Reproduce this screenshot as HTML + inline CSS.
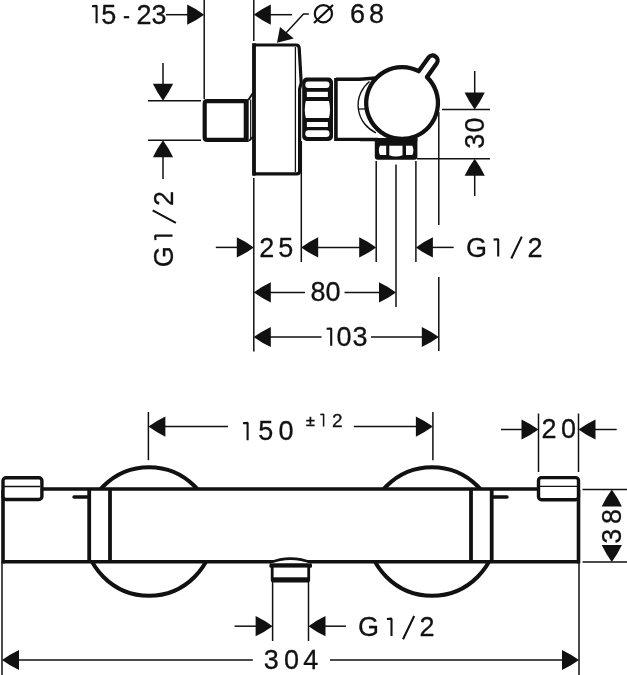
<!DOCTYPE html>
<html><head><meta charset="utf-8"><style>
html,body{margin:0;padding:0;background:#fff;}
svg{display:block;will-change:transform;}
text{font-family:"Liberation Sans",sans-serif;fill:#111;stroke:#111;stroke-width:0.3px;}
</style></head><body>
<svg width="627" height="675" viewBox="0 0 627 675" stroke="#111" fill="none" stroke-linecap="butt">
<rect x="0" y="0" width="627" height="675" fill="#fff" stroke="none"/>
<text transform="translate(108.8 14.4) rotate(0)" x="-7.48" y="9.29" font-size="27">5</text>
<path transform="translate(96.6 14) rotate(0)" d="M-4.6 -7.8 L0 -8.15 V9.2" stroke-width="2.1" fill="none" stroke-linejoin="bevel"/>
<line x1="123.8" y1="17.2" x2="129.2" y2="17.2" stroke-width="2.2"/>
<text transform="translate(143.9 14.4) rotate(0)" x="-7.51" y="9.29" font-size="27">2</text>
<text transform="translate(158.9 14.4) rotate(0)" x="-7.43" y="9.29" font-size="27">3</text>
<line x1="166" y1="14.7" x2="190" y2="14.7" stroke-width="1.5"/>
<path d="M204.2 14.7 Q196.16 8.88 187.2 4.6 L187.2 24.8 Q196.16 20.52 204.2 14.7 Z" stroke="none" fill="#111"/>
<line x1="204.2" y1="0" x2="204.2" y2="99" stroke-width="1.5"/>
<line x1="253.8" y1="0" x2="253.8" y2="41" stroke-width="1.5"/>
<path d="M253.8 14.7 Q261.84 20.52 270.8 24.8 L270.8 4.6 Q261.84 8.88 253.8 14.7 Z" stroke="none" fill="#111"/>
<line x1="268" y1="14.7" x2="292" y2="14.7" stroke-width="1.5"/>
<path d="M308.8 14 L303.5 14 L285 34" stroke-width="1.5" fill="none" />
<path d="M277 42.8 L280 27.1 L293.8 38.5 Z" stroke="none" fill="#111"/>
<circle cx="323.4" cy="13.7" r="8.6" stroke-width="2.2" fill="none"/>
<line x1="314" y1="23" x2="333" y2="5" stroke-width="2.2"/>
<text transform="translate(357.5 14) rotate(0)" x="-7.6" y="9.29" font-size="27">6</text>
<text transform="translate(376.6 14) rotate(0)" x="-7.51" y="9.29" font-size="27">8</text>
<path d="M254 173.9 V45 H296 Q299 45 299.2 48 L301.2 83 L299.6 89 V171 Q299.6 173.9 296.6 173.9 Z" stroke-width="3.2" fill="none" />
<line x1="254" y1="43.3" x2="254" y2="175.6" stroke-width="3.6"/>
<line x1="295.4" y1="47" x2="295.4" y2="172" stroke-width="1.3"/>
<path d="M246.2 101.2 H207 Q204.7 101.2 204.7 103.5 V137.6 Q204.7 139.9 207 139.9 H246.2" stroke-width="4.2" fill="none" />
<line x1="246.2" y1="99.1" x2="246.2" y2="142" stroke-width="5"/>
<line x1="250.7" y1="99.5" x2="250.7" y2="139" stroke-width="1.2"/>
<line x1="248.3" y1="100" x2="254" y2="91.5" stroke-width="2"/>
<line x1="249" y1="140.8" x2="253.8" y2="136" stroke-width="1.8"/>
<rect x="302.2" y="77.6" width="30.8" height="63.3" rx="4.5" fill="#111" stroke="none"/>
<g fill="#fff" stroke="none">
<rect x="305.3" y="81.4" width="24.2" height="6.7" rx="3"/>
<rect x="306.9" y="91.8" width="21" height="5.2"/>
<path d="M305.8 100.9 H329 Q331 109.5 329 118.1 H305.8 Q303.8 109.5 305.8 100.9 Z"/>
<rect x="306.9" y="122" width="21" height="5"/>
<rect x="305.3" y="130.3" width="24.2" height="6.7" rx="3"/>
</g>
<path d="M336 79.2 L360 79.2 L376 78" stroke-width="3.6" fill="none" />
<line x1="336" y1="139.3" x2="378" y2="139.3" stroke-width="3.3"/>
<line x1="335.9" y1="78" x2="335.9" y2="141" stroke-width="3.6"/>
<path d="M426.94 77.12 A35.9 35.9 0 1 1 418.66 71.17 L428.39 57.64 A5.1 5.1 0 0 1 436.68 63.59 Z" stroke-width="4.3" fill="#fff" stroke-linejoin="round"/>
<path d="M369.5 81.5 A30.3 30.3 0 0 0 376 132.8" stroke-width="1.4" fill="none" />
<line x1="358" y1="109" x2="365" y2="109" stroke-width="1.3"/>
<path d="M374.8 138 H417.4 V156.8 Q417.4 159.8 414.4 159.8 H377.8 Q374.8 159.8 374.8 156.8 Z" stroke-width="0" fill="#111" stroke="none"/>
<line x1="360" y1="139.6" x2="417.4" y2="139.6" stroke-width="3.3"/>
<g fill="#fff" stroke="none">
<path d="M380 145.8 H386.2 V155 H380 Q377.6 150.4 380 145.8 Z"/>
<path d="M389.3 145.8 H402.5 V155.2 Q395.9 157.8 389.3 155.2 Z"/>
<path d="M406 145.8 H412.3 Q414.6 150.4 412.3 155 H406 Z"/>
</g>
<line x1="253.8" y1="178" x2="253.8" y2="351.6" stroke-width="1.5"/>
<line x1="301.3" y1="141" x2="301.3" y2="262" stroke-width="1.5"/>
<line x1="376.2" y1="161" x2="376.2" y2="262" stroke-width="1.5"/>
<line x1="396" y1="164.5" x2="396" y2="307" stroke-width="1.5"/>
<line x1="415.9" y1="161" x2="415.9" y2="262" stroke-width="1.5"/>
<line x1="438.8" y1="112" x2="438.8" y2="225" stroke-width="1.5"/>
<line x1="438.8" y1="277" x2="438.8" y2="351" stroke-width="1.5"/>
<line x1="474.7" y1="71" x2="474.7" y2="95" stroke-width="1.5"/>
<path d="M474.7 109.5 Q480.52 101.46 484.8 92.5 L464.6 92.5 Q468.88 101.46 474.7 109.5 Z" stroke="none" fill="#111"/>
<line x1="442" y1="109.5" x2="490" y2="109.5" stroke-width="1.5"/>
<line x1="417" y1="158.7" x2="490" y2="158.7" stroke-width="1.5"/>
<path d="M474.7 158.7 Q468.88 166.74 464.6 175.7 L484.8 175.7 Q480.52 166.74 474.7 158.7 Z" stroke="none" fill="#111"/>
<line x1="474.7" y1="170" x2="474.7" y2="196" stroke-width="1.5"/>
<text transform="translate(474.9 141.3) rotate(-90)" x="-7.43" y="9.29" font-size="27">3</text>
<text transform="translate(474.9 125) rotate(-90)" x="-7.51" y="9.29" font-size="27">0</text>
<line x1="148" y1="100.7" x2="201" y2="100.7" stroke-width="1.5"/>
<line x1="148" y1="140.3" x2="201" y2="140.3" stroke-width="1.5"/>
<line x1="163" y1="63" x2="163" y2="86" stroke-width="1.5"/>
<path d="M163 100.7 Q168.82 92.66 173.1 83.7 L152.9 83.7 Q157.18 92.66 163 100.7 Z" stroke="none" fill="#111"/>
<path d="M163 140.3 Q157.18 148.34 152.9 157.3 L173.1 157.3 Q168.82 148.34 163 140.3 Z" stroke="none" fill="#111"/>
<line x1="163" y1="150" x2="163" y2="179" stroke-width="1.5"/>
<text transform="translate(163.3 257.1) rotate(-90)" x="-10.17" y="9.29" font-size="27">G</text>
<path transform="translate(163.3 235.6) rotate(-90)" d="M-4.6 -7.8 L0 -8.15 V9.2" stroke-width="2.1" fill="none" stroke-linejoin="bevel"/>

<line x1="175.9" y1="222.9" x2="152.7" y2="210.3" stroke-width="2.1"/>
<text transform="translate(163.3 198.6) rotate(-90)" x="-7.51" y="9.29" font-size="27">2</text>
<line x1="215.8" y1="247.4" x2="240" y2="247.4" stroke-width="1.5"/>
<path d="M253.8 247.4 Q245.76 241.58 236.8 237.3 L236.8 257.5 Q245.76 253.22 253.8 247.4 Z" stroke="none" fill="#111"/>
<text transform="translate(266.8 247.7) rotate(0)" x="-7.51" y="9.29" font-size="27">2</text>
<text transform="translate(285.8 247.7) rotate(0)" x="-7.48" y="9.29" font-size="27">5</text>
<path d="M301.2 247.4 Q309.24 253.22 318.2 257.5 L318.2 237.3 Q309.24 241.58 301.2 247.4 Z" stroke="none" fill="#111"/>
<line x1="315" y1="247.4" x2="362" y2="247.4" stroke-width="1.5"/>
<path d="M376.2 247.4 Q368.16 241.58 359.2 237.3 L359.2 257.5 Q368.16 253.22 376.2 247.4 Z" stroke="none" fill="#111"/>
<path d="M415.9 247.4 Q423.94 253.22 432.9 257.5 L432.9 237.3 Q423.94 241.58 415.9 247.4 Z" stroke="none" fill="#111"/>
<line x1="430" y1="247.4" x2="453.7" y2="247.4" stroke-width="1.5"/>
<text transform="translate(476.2 247.4) rotate(0)" x="-10.17" y="9.29" font-size="27">G</text>
<path transform="translate(498.2 247.4) rotate(0)" d="M-4.6 -7.8 L0 -8.15 V9.2" stroke-width="2.1" fill="none" stroke-linejoin="bevel"/>
<line x1="511.3" y1="258.5" x2="521.8" y2="236.6" stroke-width="2.1"/>
<text transform="translate(534.9 247.4) rotate(0)" x="-7.51" y="9.29" font-size="27">2</text>
<path d="M253.8 292.4 Q261.84 298.22 270.8 302.5 L270.8 282.3 Q261.84 286.58 253.8 292.4 Z" stroke="none" fill="#111"/>
<line x1="268" y1="292.4" x2="305" y2="292.4" stroke-width="1.5"/>
<text transform="translate(318 291.9) rotate(0)" x="-7.51" y="9.29" font-size="27">8</text>
<text transform="translate(333 291.9) rotate(0)" x="-7.51" y="9.29" font-size="27">0</text>
<line x1="344.5" y1="292.4" x2="382" y2="292.4" stroke-width="1.5"/>
<path d="M396 292.4 Q387.96 286.58 379 282.3 L379 302.5 Q387.96 298.22 396 292.4 Z" stroke="none" fill="#111"/>
<path d="M253.8 337 Q261.84 342.82 270.8 347.1 L270.8 326.9 Q261.84 331.18 253.8 337 Z" stroke="none" fill="#111"/>
<line x1="268" y1="337" x2="321.5" y2="337" stroke-width="1.5"/>
<path transform="translate(331.2 336.6) rotate(0)" d="M-4.6 -7.8 L0 -8.15 V9.2" stroke-width="2.1" fill="none" stroke-linejoin="bevel"/>
<text transform="translate(344 336.7) rotate(0)" x="-7.51" y="9.29" font-size="27">0</text>
<text transform="translate(360 336.7) rotate(0)" x="-7.43" y="9.29" font-size="27">3</text>
<line x1="371" y1="337" x2="425" y2="337" stroke-width="1.5"/>
<path d="M438.8 337 Q430.76 331.18 421.8 326.9 L421.8 347.1 Q430.76 342.82 438.8 337 Z" stroke="none" fill="#111"/>
<line x1="148.4" y1="412" x2="148.4" y2="460.2" stroke-width="1.5"/>
<line x1="432.9" y1="412" x2="432.9" y2="460.2" stroke-width="1.5"/>
<path d="M148.4 426.6 Q156.44 432.42 165.4 436.7 L165.4 416.5 Q156.44 420.78 148.4 426.6 Z" stroke="none" fill="#111"/>
<line x1="162" y1="426.6" x2="228" y2="426.6" stroke-width="1.5"/>
<path transform="translate(247.6 431) rotate(0)" d="M-4.6 -7.8 L0 -8.15 V9.2" stroke-width="2.1" fill="none" stroke-linejoin="bevel"/>
<text transform="translate(265.8 431.2) rotate(0)" x="-7.48" y="9.29" font-size="27">5</text>
<text transform="translate(286.1 431.2) rotate(0)" x="-7.51" y="9.29" font-size="27">0</text>
<path d="M306.2 420.6 H314.6 M310.4 416.8 V424.2 M306.2 425.3 H314.6" stroke-width="1.8"/>
<path transform="translate(323.6 420) rotate(0)" d="M-3.3 -5.6 L0 -5.85 V6.6" stroke-width="1.51" fill="none" stroke-linejoin="bevel"/>
<text transform="translate(337.3 420.5) rotate(0)" x="-5.28" y="6.54" font-size="19">2</text>
<line x1="353.8" y1="426.6" x2="419" y2="426.6" stroke-width="1.5"/>
<path d="M432.9 426.6 Q424.86 420.78 415.9 416.5 L415.9 436.7 Q424.86 432.42 432.9 426.6 Z" stroke="none" fill="#111"/>
<line x1="538.5" y1="413.5" x2="538.5" y2="472" stroke-width="1.5"/>
<line x1="578.5" y1="413.5" x2="578.5" y2="472" stroke-width="1.5"/>
<line x1="501" y1="429.5" x2="525" y2="429.5" stroke-width="1.5"/>
<path d="M538.5 429.5 Q530.46 423.68 521.5 419.4 L521.5 439.6 Q530.46 435.32 538.5 429.5 Z" stroke="none" fill="#111"/>
<path d="M578.5 429.5 Q586.54 435.32 595.5 439.6 L595.5 419.4 Q586.54 423.68 578.5 429.5 Z" stroke="none" fill="#111"/>
<line x1="592" y1="429.5" x2="616.7" y2="429.5" stroke-width="1.5"/>
<text transform="translate(549 428.6) rotate(0)" x="-7.51" y="9.29" font-size="27">2</text>
<text transform="translate(568.6 428.6) rotate(0)" x="-7.51" y="9.29" font-size="27">0</text>
<circle cx="149" cy="531.5" r="64.3" stroke-width="4" fill="none"/>
<circle cx="432" cy="531.5" r="64.3" stroke-width="4" fill="none"/>
<rect x="3" y="489" width="575.5" height="72.8" fill="#fff" stroke="none"/>
<line x1="3" y1="490" x2="3" y2="563.4" stroke-width="3.6"/>
<line x1="578.5" y1="490" x2="578.5" y2="563.4" stroke-width="3.6"/>
<line x1="42" y1="489" x2="538.5" y2="489" stroke-width="3.4"/>
<line x1="3" y1="561.8" x2="578.5" y2="561.8" stroke-width="3.4"/>
<rect x="3" y="477.7" width="38.9" height="21.8" rx="3" stroke-width="3.4" fill="#fff"/>
<line x1="4" y1="486.5" x2="40" y2="486.5" stroke-width="1.3"/>
<rect x="538.5" y="477.6" width="40" height="22.2" rx="3" stroke-width="3.4" fill="#fff"/>
<line x1="540" y1="486.4" x2="577" y2="486.4" stroke-width="1.3"/>
<line x1="89.2" y1="489" x2="89.2" y2="561.8" stroke-width="3.8"/>
<line x1="110" y1="489" x2="110" y2="561.8" stroke-width="3.8"/>
<line x1="471" y1="489" x2="471" y2="561.8" stroke-width="3.8"/>
<line x1="491.7" y1="489" x2="491.7" y2="561.8" stroke-width="3.8"/>
<path d="M88 497 H74 M493 497 H507" stroke-width="3.4" stroke-linecap="round"/>
<path d="M270 563.9 L270.5 562.5 Q290.6 554.7 310.7 562.5 L311 563.9 Z" fill="#fff" stroke="none"/>
<path d="M269.5 562.8 Q290.6 554.4 311.7 562.8" stroke-width="2.6" fill="none" />
<rect x="269.4" y="563.6" width="42.6" height="4.2" rx="1.5" fill="#111" stroke="none"/>
<rect x="270.8" y="563.6" width="39.3" height="18.8" rx="2.5" fill="#111" stroke="none"/>
<rect x="273.6" y="567.6" width="33.7" height="9.7" fill="#fff" stroke="none"/>
<line x1="272.6" y1="582" x2="272.6" y2="641" stroke-width="1.5"/>
<line x1="308.5" y1="582" x2="308.5" y2="641" stroke-width="1.5"/>
<line x1="234.6" y1="626.2" x2="258" y2="626.2" stroke-width="1.5"/>
<path d="M272.6 626.2 Q264.56 620.38 255.6 616.1 L255.6 636.3 Q264.56 632.02 272.6 626.2 Z" stroke="none" fill="#111"/>
<path d="M308.5 626.2 Q316.54 632.02 325.5 636.3 L325.5 616.1 Q316.54 620.38 308.5 626.2 Z" stroke="none" fill="#111"/>
<line x1="322" y1="626.2" x2="345.9" y2="626.2" stroke-width="1.5"/>
<text transform="translate(368.2 626.8) rotate(0)" x="-10.17" y="9.29" font-size="27">G</text>
<path transform="translate(391.5 626.8) rotate(0)" d="M-4.6 -7.8 L0 -8.15 V9.2" stroke-width="2.1" fill="none" stroke-linejoin="bevel"/>
<line x1="403" y1="639.2" x2="414.2" y2="616" stroke-width="2.1"/>
<text transform="translate(427 626.8) rotate(0)" x="-7.51" y="9.29" font-size="27">2</text>
<line x1="2" y1="562" x2="2" y2="675" stroke-width="1.5"/>
<line x1="579" y1="562" x2="579" y2="675" stroke-width="1.5"/>
<path d="M2 660 Q10.04 665.82 19 670.1 L19 649.9 Q10.04 654.18 2 660 Z" stroke="none" fill="#111"/>
<line x1="15" y1="660" x2="252.8" y2="660" stroke-width="1.5"/>
<text transform="translate(271.2 659.9) rotate(0)" x="-7.43" y="9.29" font-size="27">3</text>
<text transform="translate(291.4 659.9) rotate(0)" x="-7.51" y="9.29" font-size="27">0</text>
<text transform="translate(310.6 659.9) rotate(0)" x="-7.42" y="9.29" font-size="27">4</text>
<line x1="330" y1="660" x2="565" y2="660" stroke-width="1.5"/>
<path d="M579 660 Q570.96 654.18 562 649.9 L562 670.1 Q570.96 665.82 579 660 Z" stroke="none" fill="#111"/>
<line x1="582.5" y1="489.6" x2="627" y2="489.6" stroke-width="1.5"/>
<line x1="582.5" y1="562" x2="627" y2="562" stroke-width="1.5"/>
<path d="M611.8 489.6 Q605.98 497.64 601.7 506.6 L621.9 506.6 Q617.62 497.64 611.8 489.6 Z" stroke="none" fill="#111"/>
<path d="M611.8 562 Q617.62 553.96 621.9 545 L601.7 545 Q605.98 553.96 611.8 562 Z" stroke="none" fill="#111"/>
<text transform="translate(611.8 516.5) rotate(-90)" x="-7.51" y="9.29" font-size="27">8</text>
<text transform="translate(611.8 536.3) rotate(-90)" x="-7.43" y="9.29" font-size="27">3</text>
</svg>
</body></html>
